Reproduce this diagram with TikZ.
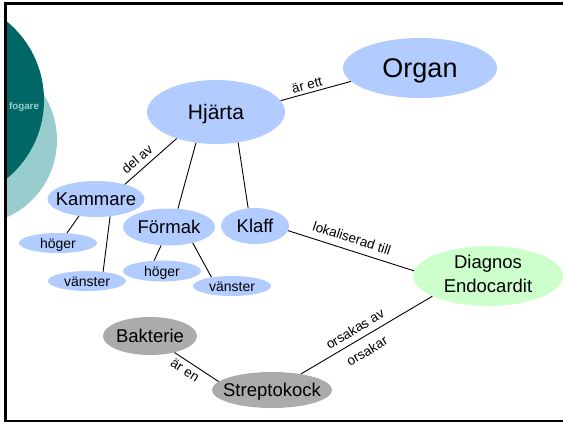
\documentclass[tikz,border=0pt]{standalone}
\usepackage{fontspec}
\setmainfont{Liberation Sans}
\usetikzlibrary{shapes.geometric}
\definecolor{blu}{HTML}{B3CCFF}
\definecolor{grn}{HTML}{CCFFCC}
\definecolor{gry}{HTML}{ABABAB}
\definecolor{dteal}{HTML}{006666}
\definecolor{lteal}{HTML}{99CCCC}
\newcommand\zbox[1]{\smash{\makebox[0pt]{\raisebox{-0.36em}{#1}}}}
\begin{document}
\begin{tikzpicture}[x=1pt,y=-1pt,
  ell/.style={ellipse, inner sep=0pt, text=black},
  bl/.style={ell, fill=blu},
  gr/.style={ell, fill=gry},
  big/.style={font=\fontsize{18.5}{22}\selectfont},
  small/.style={font=\fontsize{14}{16}\selectfont},
  conn/.style={line width=0.9pt, black},
  lab/.style={font=\fontsize{13.5}{15}\selectfont, inner sep=0pt}]
\useasboundingbox (0,0) rectangle (563,424);
\begin{scope}
  \clip (5,0) rectangle (563,424);
  \fill[lteal] (-27.5,140) circle (84.5pt);
  \fill[dteal] (-57.6,100) circle (101.6pt);
\end{scope}
\node[font=\bfseries\fontsize{9.8}{12}\selectfont, text=lteal, inner sep=0pt] (fog) at (24,107) {fogare};
% frame
\draw[line width=3pt] (563,3.5) -- (4,3.5);
\draw[line width=3pt] (5.5,2) -- (5.5,422);
\draw[line width=2pt] (4,421.2) -- (563,421.2);
% nodes
\node[bl, minimum width=154pt, minimum height=60pt, font=\fontsize{27}{30}\selectfont] (organ) at (420,68) {\zbox{Organ}};
\node[bl, minimum width=138pt, minimum height=64pt, font=\fontsize{21}{24}\selectfont] (hj) at (216,112) {\zbox{Hjärta}};
\node[bl, big, minimum width=97pt, minimum height=36pt] (kam) at (96,199) {\zbox{Kammare}};
\node[bl, big, minimum width=92pt, minimum height=37pt] (form) at (169,227) {\zbox{Förmak}};
\node[bl, big, minimum width=68pt, minimum height=36pt] (klaff) at (255,226) {\zbox{Klaff}};
\node[bl, small, minimum width=78pt, minimum height=20pt] (hog1) at (58,243) {\zbox{höger}};
\node[bl, small, minimum width=78pt, minimum height=20pt] (van1) at (87,281) {\zbox{vänster}};
\node[bl, small, minimum width=78pt, minimum height=21pt] (hog2) at (162,271) {\zbox{höger}};
\node[bl, small, minimum width=78pt, minimum height=20pt] (van2) at (232,286) {\zbox{vänster}};
\node[ell, fill=grn, font=\fontsize{18.5}{22.5}\selectfont, minimum width=150pt, minimum height=60pt] (diag) at (488,276)
  {\smash{\makebox[0pt]{\raisebox{-4.2pt}{\setlength\tabcolsep{0pt}\renewcommand\arraystretch{1.05}\begin{tabular}{c}Diagnos\\Endocardit\end{tabular}}}}};
\node[gr, big, minimum width=94pt, minimum height=38pt] (bakt) at (150,336) {\zbox{Bakterie}};
\node[gr, big, minimum width=120pt, minimum height=36pt] (strep) at (272,390) {\zbox{Streptokock}};
% connectors
\draw[conn] (hj.10.3) -- (organ.191.6);
\draw[conn] (hj.214.4) -- (kam.27.3);
\draw[conn] (hj.237.7) -- (form.64.7);
\draw[conn] (hj.306) -- (klaff.111);
\draw[conn] (kam.225) -- (hog1.48);
\draw[conn] (kam.309) -- (van1.30);
\draw[conn] (form.247) -- (hog2.127);
\draw[conn] (form.326) -- (van2.157);
\draw[conn] (klaff.352) -- (diag.176);
\draw[conn] (diag.200) -- (strep.29.5);
\draw[conn] (bakt.326) -- (strep.171);
% labels
\node[lab, rotate=14.4] (l1) at (307,85) {är ett};
\node[lab, rotate=41] (l2) at (137,159) {del av};
\node[lab, rotate=-18] (l3) at (352,238) {lokaliserad till};
\node[lab, rotate=31] (l4) at (355,329) {orsakas av};
\node[lab, rotate=31] (l5) at (367,351) {orsakar};
\node[lab, rotate=-32] (l6) at (185,370) {är en};
\end{tikzpicture}
\end{document}
